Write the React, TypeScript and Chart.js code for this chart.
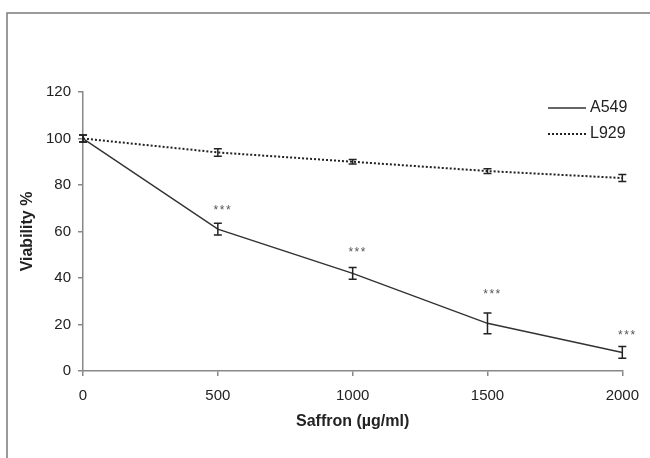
import React, { useEffect, useRef } from "react";
import { Chart, registerables } from "chart.js";

Chart.register(...registerables);

const doses = [0, 500, 1000, 1500, 2000];
const a549 = [100, 61, 42, 20.5, 8];
const a549Err = [1.5, 2.5, 2.5, 4.5, 2.5];
const l929 = [100, 94, 90, 86, 83];
const l929Err = [1.5, 1.6, 1, 1, 1.5];
const starLevels = [null, 69, 51, 33, 15];
const starText = "***";
const yTicks = [0, 20, 40, 60, 80, 100, 120];
const xTicks = [0, 500, 1000, 1500, 2000];
const seriesNames = ["A549", "L929"];

const FONT = "'Liberation Sans', Arial, sans-serif";

const errorBarPlugin = {
  id: "errorBars",
  afterDatasetsDraw(chart: any) {
    const ctx = chart.ctx;
    const yScale = chart.scales.y;
    const errs = [a549Err, l929Err];
    const vals = [a549, l929];
    ctx.save();
    ctx.strokeStyle = "#222";
    ctx.lineWidth = 1.5;
    chart.data.datasets.forEach((_ds: any, di: number) => {
      const meta = chart.getDatasetMeta(di);
      meta.data.forEach((pt: any, i: number) => {
        const v = vals[di][i];
        const e = errs[di][i];
        const yt = yScale.getPixelForValue(v + e);
        const yb = yScale.getPixelForValue(v - e);
        const x = pt.x;
        ctx.beginPath();
        ctx.moveTo(x, yt);
        ctx.lineTo(x, yb);
        ctx.moveTo(x - 4, yt);
        ctx.lineTo(x + 4, yt);
        ctx.moveTo(x - 4, yb);
        ctx.lineTo(x + 4, yb);
        ctx.stroke();
      });
    });
    // significance stars
    ctx.fillStyle = "#555";
    ctx.font = `12px ${FONT}`;
    (ctx as any).letterSpacing = "1.5px";
    ctx.textAlign = "center";
    ctx.textBaseline = "middle";
    const xScale = chart.scales.x;
    starLevels.forEach((lv, i) => {
      if (lv == null) return;
      ctx.fillText(starText, xScale.getPixelForValue(doses[i]) + 5, yScale.getPixelForValue(lv));
    });
    (ctx as any).letterSpacing = "0px";
    ctx.restore();
  },
};

const decorPlugin = {
  id: "decor",
  afterDraw(chart: any) {
    const ctx = chart.ctx;
    ctx.save();
    // outer frame
    ctx.strokeStyle = "#7a7a7a";
    ctx.lineWidth = 1.5;
    ctx.beginPath();
    ctx.moveTo(7, 460);
    ctx.lineTo(7, 13);
    ctx.lineTo(652, 13);
    ctx.stroke();
    // legend
    ctx.font = `16px ${FONT}`;
    ctx.fillStyle = "#222";
    ctx.textAlign = "left";
    ctx.textBaseline = "middle";
    ctx.strokeStyle = "#333";
    ctx.lineWidth = 1.5;
    ctx.beginPath();
    ctx.moveTo(548, 108);
    ctx.lineTo(586, 108);
    ctx.stroke();
    ctx.fillText(seriesNames[0], 590, 108);
    ctx.strokeStyle = "#222";
    ctx.lineWidth = 2;
    ctx.setLineDash([2, 2]);
    ctx.beginPath();
    ctx.moveTo(548, 134);
    ctx.lineTo(586, 134);
    ctx.stroke();
    ctx.setLineDash([]);
    ctx.fillText(seriesNames[1], 590, 134);
    ctx.restore();
  },
};

export default function App() {
  const ref = useRef<HTMLCanvasElement>(null);
  useEffect(() => {
    if (!ref.current) return;
    const chart = new Chart(ref.current, {
      type: "line",
      data: {
        datasets: [
          {
            label: seriesNames[0],
            data: doses.map((d, i) => ({ x: d, y: a549[i] })),
            borderColor: "#333",
            borderWidth: 1.5,
            pointRadius: 0,
            tension: 0,
          },
          {
            label: seriesNames[1],
            data: doses.map((d, i) => ({ x: d, y: l929[i] })),
            borderColor: "#222",
            borderWidth: 2,
            borderDash: [2, 2],
            pointRadius: 0,
            tension: 0,
          },
        ],
      },
      options: {
        animation: false,
        responsive: false,
        events: [],
        layout: { padding: { left: 0, top: 92, right: 27, bottom: 0 } },
        plugins: { legend: { display: false }, tooltip: { enabled: false } },
        scales: {
          x: {
            type: "linear",
            min: 0,
            max: 2000,
            afterFit: (s: any) => {
              s.height = 87;
            },
            afterBuildTicks: (s: any) => {
              s.ticks = xTicks.map((v) => ({ value: v }));
            },
            border: { color: "#888", width: 1.5 },
            grid: { display: true, drawOnChartArea: false, drawTicks: true, tickLength: 5, color: "#888", lineWidth: 1.5 },
            ticks: {
              color: "#222",
              font: { family: FONT, size: 15 },
              padding: 11,
              maxRotation: 0,
              callback: (v: any) => String(v),
            },
            title: {
              display: true,
              text: "Saffron (µg/ml)",
              color: "#222",
              font: { family: FONT, size: 16, weight: "bold" },
              padding: { top: 0, bottom: 27 },
            },
          },
          y: {
            min: 0,
            max: 120,
            afterFit: (s: any) => {
              s.width = 83;
            },
            afterBuildTicks: (s: any) => {
              s.ticks = yTicks.map((v) => ({ value: v }));
            },
            border: { color: "#888", width: 1.5 },
            grid: { display: true, drawOnChartArea: false, drawTicks: true, tickLength: 5, color: "#888", lineWidth: 1.5 },
            ticks: { color: "#222", font: { family: FONT, size: 15 }, padding: 7, callback: (v: any) => String(v) },
            title: {
              display: true,
              text: "Viability %",
              color: "#222",
              font: { family: FONT, size: 16, weight: "bold" },
              padding: { top: 18, bottom: 0 },
            },
          },
        },
      },
      plugins: [errorBarPlugin, decorPlugin],
    });
    return () => chart.destroy();
  }, []);
  return (
    <div style={{ position: "fixed", left: 0, top: 0, width: 650, height: 458, background: "#fff" }}>
      <canvas ref={ref} width={650} height={458} style={{ display: "block" }} />
    </div>
  );
}
